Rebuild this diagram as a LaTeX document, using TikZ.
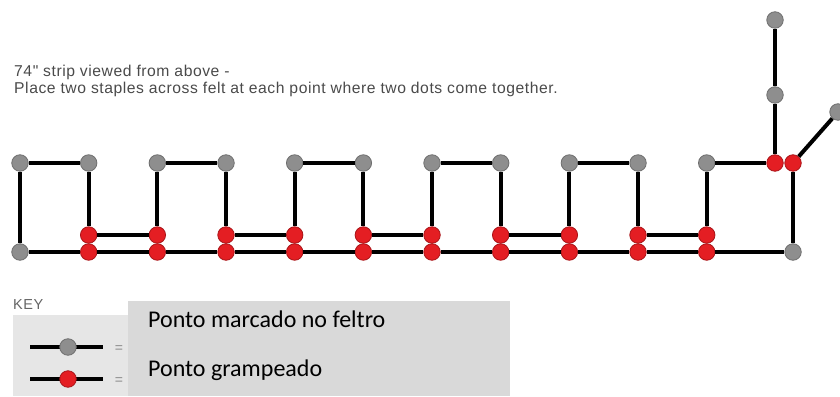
\documentclass[tikz,border=0pt]{standalone}
\usepackage{fontspec}
\setmainfont{Liberation Sans}
\newfontfamily\arial[Ligatures=TeXOff,LetterSpace=3.5]{Liberation Sans}
\newfontfamily\calib{Carlito}
\usepackage{tikz}
\definecolor{cinza}{HTML}{8E8E8E}
\definecolor{cinzaborda}{HTML}{6E6E6E}
\definecolor{vermelho}{HTML}{E41E23}
\definecolor{vermelhoborda}{HTML}{A81418}
\definecolor{texto}{HTML}{4A4A4A}
\definecolor{caixa}{HTML}{D9D9D9}
\definecolor{caixaclara}{HTML}{E6E6E6}
\tikzset{
  fio/.style={line width=4pt,black},
  marca/.style={circle,inner sep=0pt,minimum size=16.5pt,fill=cinza,draw=cinzaborda,line width=0.8pt},
  grampo/.style={circle,inner sep=0pt,minimum size=16.5pt,fill=vermelho,draw=vermelhoborda,line width=0.8pt}
}

\begin{document}
\begin{tikzpicture}[x=1pt,y=-1pt]
    \useasboundingbox (0,0) rectangle (840,396);
    \node[anchor=base west,text=texto,font=\arial\fontsize{15.7}{18}\selectfont,inner sep=0pt] (linha1) at (14,76) {74" strip viewed from above -};
    \node[anchor=base west,text=texto,font=\arial\fontsize{15.7}{18}\selectfont,inner sep=0pt] (linha2) at (14,93) {Place two staples across felt at each point where two dots come together.};

    \foreach \i in {0,...,10} {
        \node[marca] (t\i) at (20+68.67*\i,163) {};
    }
    \foreach \i in {1,...,10} {
        \node[grampo] (m\i) at (20+68.67*\i,235) {};
        \node[grampo] (b\i) at (20+68.67*\i,252) {};
    }
    \node[marca] (b0) at (20,252) {};
    \node[marca] (b11) at (793,252) {};
    \node[grampo] (r1) at (775,163) {};
    \node[grampo] (r2) at (793,163) {};
    \node[marca] (u1) at (775,95) {};
    \node[marca] (u2) at (775,20) {};
    \node[marca] (d) at (838,112) {};

    \foreach \a/\b in {0/1,2/3,4/5,6/7,8/9} \draw[fio] (t\a) -- (t\b);
    \foreach \a/\b in {1/2,3/4,5/6,7/8,9/10} \draw[fio] (m\a) -- (m\b);
    \foreach \i in {1,...,10} \draw[fio] (t\i) -- (m\i);
    \foreach \i [evaluate=\i as \j using int(\i+1)] in {0,...,10} \draw[fio] (b\i) -- (b\j);
    \draw[fio] (t0) -- (b0);
    \draw[fio] (t10) -- (r1);
    \draw[fio] (r1) -- (u1) -- (u2);
    \draw[fio] (b11) -- (r2);
    \draw[fio] (r2) -- (d);

    % legenda
    \node[anchor=base west,text=texto!85,font=\arial\fontsize{14.5}{16}\selectfont,inner sep=0pt] (key) at (13,309) {KEY};
    \fill[caixaclara] (13,315) rectangle (128,396);
    \fill[caixa] (128,301) rectangle (510,396);
    \coordinate (l1a) at (30,347);
    \coordinate (l1b) at (103,347);
    \coordinate (l2a) at (30,379);
    \coordinate (l2b) at (103,379);
    \draw[fio] (l1a) -- (l1b);
    \draw[fio] (l2a) -- (l2b);
    \node[marca] (km) at (68,347) {};
    \node[grampo] (kg) at (68,379) {};
    \node[text=black!45,font=\arial\fontsize{14}{15}\selectfont] (eq1) at (119,349) {=};
    \node[text=black!45,font=\arial\fontsize{14}{15}\selectfont] (eq2) at (119,381) {=};
    \node[anchor=base west,font=\calib\fontsize{24}{28}\selectfont,inner sep=0pt] (txt1) at (148,327) {Ponto marcado no feltro};
    \node[anchor=base west,font=\calib\fontsize{24}{28}\selectfont,inner sep=0pt] (txt2) at (148,376) {Ponto grampeado};
\end{tikzpicture}
\end{document}
